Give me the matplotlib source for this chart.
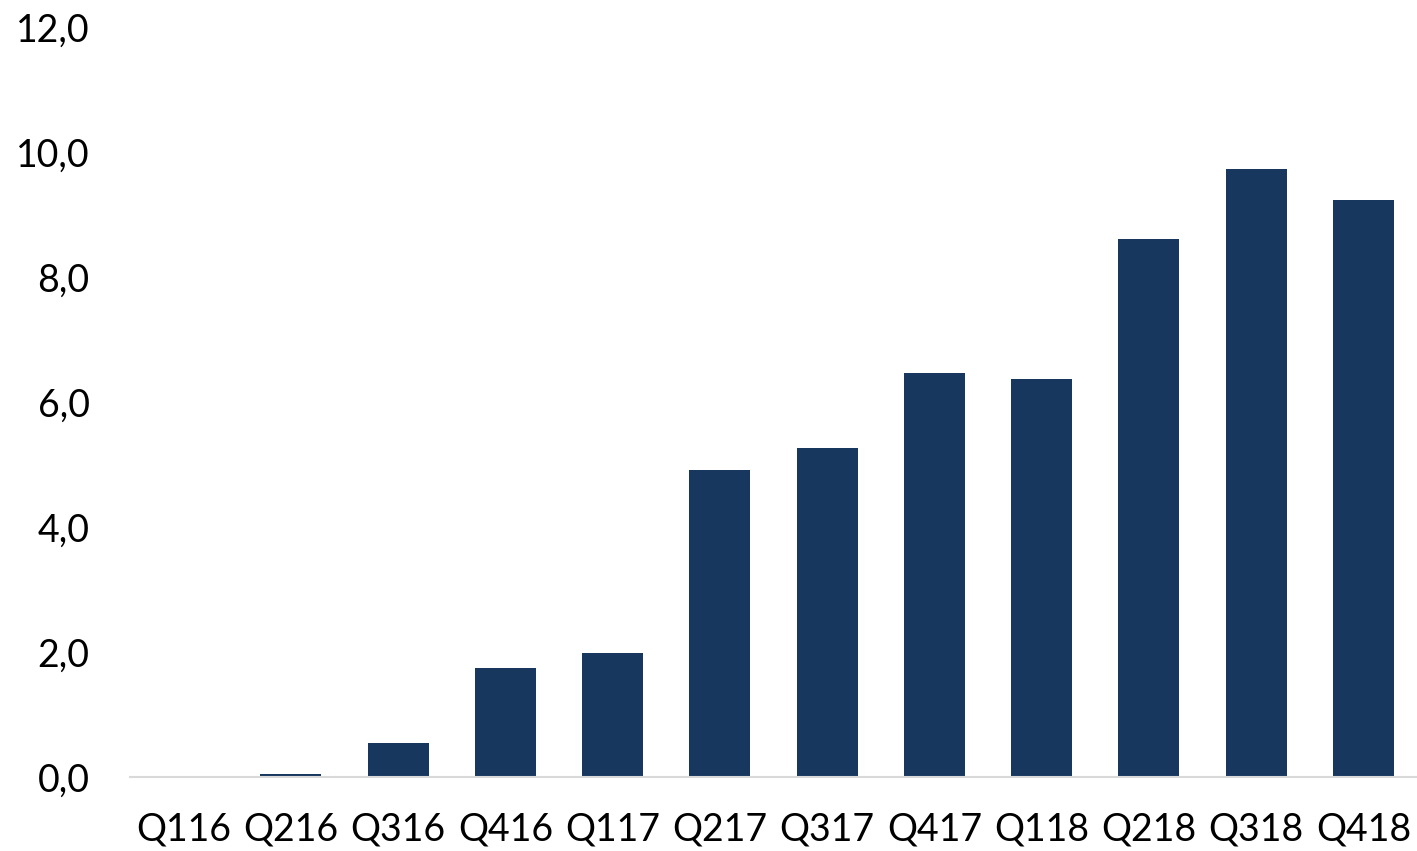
import matplotlib
matplotlib.use('Agg')
import matplotlib.pyplot as plt

quarters = ['Q116', 'Q216', 'Q316', 'Q416', 'Q117', 'Q217', 'Q317', 'Q417',
            'Q118', 'Q218', 'Q318', 'Q418']
values = [0.0, 0.05, 0.54, 1.74, 1.98, 4.91, 5.26, 6.46, 6.37, 8.61, 9.73, 9.23]
y_ticks = [0, 2, 4, 6, 8, 10, 12]

plt.rcParams['font.family'] = ['Lato', 'DejaVu Sans']

fig = plt.figure(figsize=(14.17, 8.51), dpi=100)
ax = fig.add_axes([130 / 1417, 74 / 851, 1287 / 1417, 750 / 851])

x = range(len(quarters))
ax.bar(x, values, width=0.57, color='#17375e', zorder=2)

ax.set_xlim(-0.5, len(quarters) - 0.5)
ax.set_ylim(0, 12)
ax.set_xticks(list(x))
ax.set_xticklabels(quarters, fontsize=27)
ax.set_yticks(y_ticks)
ax.set_yticklabels([f'{v:.1f}'.replace('.', ',') for v in y_ticks], fontsize=27)

for side in ['top', 'right', 'left']:
    ax.spines[side].set_visible(False)
ax.spines['bottom'].set_color('#d9d9d9')
ax.spines['bottom'].set_linewidth(1.5)
ax.tick_params(axis='both', length=0)
ax.tick_params(axis='x', pad=25)
ax.tick_params(axis='y', pad=29)

fig.savefig('out.png', dpi=100)
